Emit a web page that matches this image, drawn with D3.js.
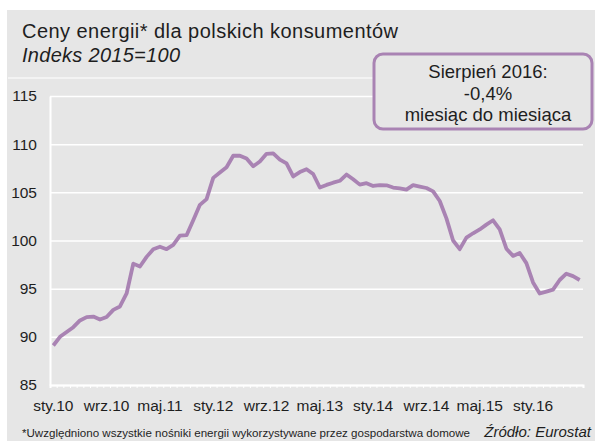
<!DOCTYPE html>
<html>
<head>
<meta charset="utf-8">
<script src="https://cdn.jsdelivr.net/npm/d3@7"></script>
<style>
  body { margin: 0; background: #fff; }
  svg { display: block; font-family: "Liberation Sans", Arial, sans-serif; }
</style>
</head>
<body>
<div id="chart"></div>
<script>
// months and years used to build the category axis
var monthNames = ["sty", "lut", "mar", "kwi", "maj", "cze", "lip", "sie", "wrz", "paź", "lis", "gru"];
var years = ["10", "11", "12", "13", "14", "15", "16"];
var tickLabels = ["sty.10", "wrz.10", "maj.11", "sty.12", "wrz.12", "maj.13", "sty.14", "wrz.14", "maj.15", "sty.16"];
var yTicks = [85, 90, 95, 100, 105, 110, 115];

// energy price index, 2015=100, monthly sty.10 - sie.16
var values = [
  89.1, 90.0, 90.5, 91.0, 91.7, 92.05, 92.1, 91.8, 92.05, 92.8, 93.15, 94.5,
  97.6, 97.3, 98.3, 99.1, 99.35, 99.1, 99.55, 100.5, 100.55, 102.1, 103.7, 104.3,
  106.5, 107.05, 107.6, 108.8, 108.8, 108.5, 107.7, 108.2, 109.0, 109.05, 108.4, 108.0,
  106.65, 107.1, 107.4, 106.9, 105.5, 105.77, 106.0, 106.2, 106.85, 106.35, 105.8, 105.95,
  105.66, 105.75, 105.73, 105.5, 105.4, 105.28, 105.75, 105.6, 105.45, 105.1, 104.1, 102.3,
  100.0, 99.1, 100.3, 100.75, 101.15, 101.65, 102.1, 101.15, 99.15, 98.4, 98.7, 97.65,
  95.65, 94.5, 94.7, 94.9, 95.9, 96.55, 96.3, 95.9
];

var categories = [];
years.forEach(function(y) {
  monthNames.forEach(function(m) { categories.push(m + "." + y); });
});
categories = categories.slice(0, values.length);

var svgWidth = 595;
var svgHeight = 441;
var margin = { top: 96, right: 12, bottom: 56, left: 50 };
var width = svgWidth - margin.left - margin.right;
var height = svgHeight - margin.top - margin.bottom;

var lineColor = "#a983b3";
var bg = "#e6e6e6";
var textColor = "#1e1e1e";

var svg = d3.select("#chart")
  .append("svg")
  .attr("width", svgWidth)
  .attr("height", svgHeight);

// grey panel
svg.append("rect")
  .attr("x", 7).attr("y", 10)
  .attr("width", svgWidth - 7).attr("height", svgHeight - 10)
  .attr("fill", bg);

svg.append("line")
  .attr("x1", 8).attr("x2", 374)
  .attr("y1", 78).attr("y2", 78)
  .attr("stroke", "#fff").attr("stroke-width", 1.2);

// title
svg.append("text")
  .attr("x", 22).attr("y", 38)
  .attr("font-size", 20)
  .attr("fill", textColor)
  .attr("textLength", 376)
  .attr("lengthAdjust", "spacing")
  .text("Ceny energii* dla polskich konsumentów");

svg.append("text")
  .attr("x", 22).attr("y", 62)
  .attr("font-size", 20)
  .attr("font-style", "italic")
  .attr("fill", textColor)
  .attr("textLength", 158)
  .attr("lengthAdjust", "spacing")
  .text("Indeks 2015=100");

var chartGroup = svg.append("g")
  .attr("transform", `translate(${margin.left}, ${margin.top})`);

var xScale = d3.scaleBand()
  .domain(categories)
  .range([0, width]);

var xEdges = d3.scaleLinear()
  .domain([0, categories.length])
  .range([0, width]);

var yScale = d3.scaleLinear()
  .domain([85, 115])
  .range([height, 0]);

// gridlines
chartGroup.append("g")
  .call(d3.axisLeft(yScale).tickValues(yTicks).tickSize(-width).tickFormat(""))
  .call(g => g.select(".domain").remove())
  .selectAll("line")
  .attr("stroke", "#fff")
  .attr("stroke-width", 1.5);

// y axis
var yAxis = chartGroup.append("g")
  .call(d3.axisLeft(yScale).tickValues(yTicks).tickSize(0).tickPadding(13));
yAxis.select(".domain").attr("stroke", "#fff").attr("stroke-width", 2);
yAxis.selectAll("text")
  .attr("font-size", 15.5)
  .attr("fill", textColor)
  .attr("font-family", "Liberation Sans, Arial, sans-serif");

// minor ticks on x axis
var xMinor = chartGroup.append("g")
  .attr("transform", `translate(0, ${height})`)
  .call(d3.axisBottom(xEdges).tickValues(d3.range(categories.length + 1)).tickSize(3).tickFormat(""));
xMinor.select(".domain").attr("stroke", "#fff").attr("stroke-width", 2);
xMinor.selectAll("line").attr("stroke", "#fff").attr("stroke-width", 1);

// x labels
var xAxis = chartGroup.append("g")
  .attr("transform", `translate(0, ${height})`)
  .call(d3.axisBottom(xScale).tickValues(tickLabels).tickSize(0).tickPadding(15));
xAxis.select(".domain").remove();
xAxis.selectAll("text")
  .attr("font-size", 15.5)
  .attr("fill", textColor)
  .attr("font-family", "Liberation Sans, Arial, sans-serif");

// line
var line = d3.line()
  .x((d, i) => xScale(categories[i]) + xScale.bandwidth() / 2)
  .y(d => yScale(d));

chartGroup.append("path")
  .datum(values)
  .attr("d", line)
  .attr("fill", "none")
  .attr("stroke", lineColor)
  .attr("stroke-width", 3.8)
  .attr("stroke-linejoin", "round");

// annotation box
svg.append("rect")
  .attr("x", 374).attr("y", 54)
  .attr("width", 218).attr("height", 75)
  .attr("rx", 9)
  .attr("fill", bg)
  .attr("stroke", lineColor)
  .attr("stroke-width", 3);

var boxLines = ["Sierpień 2016:", "-0,4%", "miesiąc do miesiąca"];
svg.append("g").selectAll("text")
  .data(boxLines)
  .enter()
  .append("text")
  .attr("x", 488)
  .attr("y", (d, i) => 78 + i * 21.5)
  .attr("text-anchor", "middle")
  .attr("font-size", 18.5)
  .attr("fill", textColor)
  .text(d => d);

// footnote and source
svg.append("text")
  .attr("x", 22).attr("y", 436.5)
  .attr("font-size", 10.5)
  .attr("fill", textColor)
  .attr("textLength", 448)
  .attr("lengthAdjust", "spacingAndGlyphs")
  .text("*Uwzględniono wszystkie nośniki energii wykorzystywane przez gospodarstwa domowe");

svg.append("text")
  .attr("x", 591).attr("y", 437)
  .attr("text-anchor", "end")
  .attr("font-size", 15)
  .attr("font-style", "italic")
  .attr("fill", textColor)
  .text("Źródło: Eurostat");
</script>
</body>
</html>
